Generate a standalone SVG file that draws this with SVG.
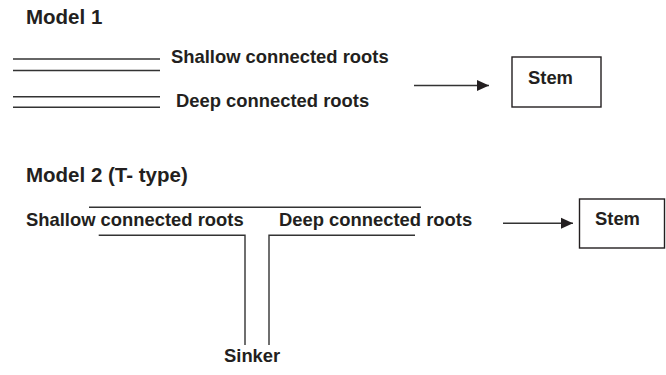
<svg xmlns="http://www.w3.org/2000/svg" width="666" height="375" viewBox="0 0 666 375">
<style>
text{font-family:"Liberation Sans",Arial,sans-serif;font-weight:bold;fill:#231f20}
.t{font-size:20.5px}
.l{font-size:18.4px}
.ln{stroke:#333;stroke-width:1.4;fill:none}
.box{stroke:#231f20;stroke-width:1.4;fill:#fff}
</style>
<defs>
<marker id="ah" markerWidth="12" markerHeight="12" refX="12" refY="6" orient="auto" markerUnits="userSpaceOnUse">
<path d="M0,0.5 L12,6 L0,11.5 Z" fill="#231f20"/>
</marker>
</defs>
<rect width="666" height="375" fill="#fff"/>
<g id="model1">
<text class="t" x="26" y="24">Model 1</text>
<g id="shallow1">
<line class="ln" x1="13" y1="59" x2="160" y2="59"/>
<line class="ln" x1="13" y1="70.5" x2="160" y2="70.5"/>
<text class="l" x="171" y="63">Shallow connected roots</text>
</g>
<g id="deep1">
<line class="ln" x1="13" y1="96.7" x2="160" y2="96.7"/>
<line class="ln" x1="13" y1="107.3" x2="160" y2="107.3"/>
<text class="l" x="176" y="107">Deep connected roots</text>
</g>
<g id="stem1">
<rect class="box" x="512" y="57" width="89" height="50"/>
<text class="l" x="528" y="84">Stem</text>
</g>
</g>
<g id="model2">
<text class="t" x="26" y="182">Model 2 (T- type)</text>
<g id="tjunction">
<line class="ln" x1="89" y1="207.3" x2="421" y2="207.3"/>
<polyline class="ln" points="98.7,235.3 245,235.3 245,345"/>
<polyline class="ln" points="415,235.3 269,235.3 269,345"/>
</g>
<g id="shallow2"><text class="l" x="26" y="226">Shallow connected roots</text></g>
<g id="deep2"><text class="l" x="279" y="226">Deep connected roots</text></g>
<g id="sinker"><text class="l" x="224" y="362">Sinker</text></g>
<g id="stem2">
<rect class="box" x="579.5" y="199" width="85" height="49"/>
<text class="l" x="595" y="225">Stem</text>
</g>
</g>
<g id="connectors">
<line class="ln" x1="414" y1="85.5" x2="489" y2="85.5" marker-end="url(#ah)"/>
<line class="ln" x1="503" y1="223.3" x2="573" y2="223.3" marker-end="url(#ah)"/>
</g>
</svg>
